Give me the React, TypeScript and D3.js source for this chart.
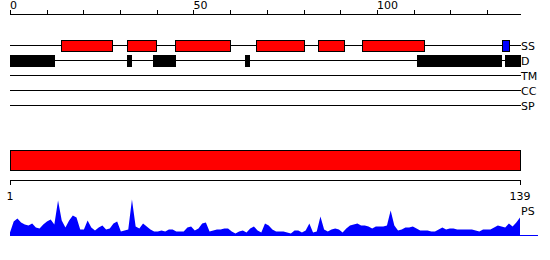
import React from "react";
import * as d3 from "d3";

const AXIS_TICKS = d3.range(0, 140, 10);
const AXIS_LABELS = [0, 50, 100];
const TRACKS = ["SS", "D", "TM", "CC", "SP"];
const HELIX: [number, number][] = [[14, 28], [32, 40], [45, 60], [67, 80], [84, 91], [96, 113]];
const STRAND: [number, number][] = [[134, 136]];
const DISORDER: [number, number][] = [[0, 12], [32, 33], [39, 45], [64, 65], [111, 134], [135, 139]];
const SEQ_START = 1;
const SEQ_END = 139;
const PS_LABEL = "PS";
const PS_VALUES = [
  3, 14, 17, 13, 11, 10, 12, 8, 7, 11,
  14, 16, 11, 35, 15, 8, 15, 20, 18, 6,
  6, 15, 8, 5, 8, 10, 6, 7, 12, 14,
  4, 5, 6, 36, 9, 7, 12, 9, 6, 4,
  4, 5, 4, 6, 6, 4, 4, 4, 8, 9,
  5, 7, 12, 13, 4, 5, 6, 6, 7, 7,
  4, 2, 4, 5, 3, 7, 9, 5, 3, 12,
  10, 6, 4, 4, 4, 3, 2, 5, 5, 3,
  5, 12, 3, 4, 19, 6, 4, 6, 7, 6,
  3, 7, 10, 11, 12, 10, 10, 9, 7, 9,
  9, 9, 10, 25, 10, 5, 6, 8, 8, 9,
  7, 5, 5, 5, 4, 4, 6, 8, 6, 7,
  7, 6, 6, 6, 6, 6, 5, 4, 6, 6,
  6, 8, 10, 9, 8, 12, 9, 13, 18,
];

const FONT = "DejaVu Sans";

export default function App() {
  const W = 550, H = 260;
  const x = d3.scaleLinear().domain([0, 139]).range([10, 520]);
  const xr = d3.scaleLinear().domain([SEQ_START, SEQ_END]).range([10, 520]);
  const y = d3.scaleLinear().domain([0, 40]).range([235.5, 195.5]);
  const trackY = d3.scalePoint<string>().domain(TRACKS).range([45.5, 105.5]);
  const area = d3.area<number>()
    .x((_, i) => xr(i + SEQ_START))
    .y0(236)
    .y1((d) => y(d))
    .curve(d3.curveLinear);

  const box = (seg: [number, number], cy: number, fill: string, stroke: string, key: string) => (
    <rect key={key} x={Math.round(x(seg[0])) + 0.5} y={cy - 5} width={Math.max(1, Math.round(x(seg[1]) - x(seg[0])))}
      height={11} fill={fill} stroke={stroke} strokeWidth={1} />
  );

  return (
    <svg width={W} height={H} style={{ position: "absolute", left: 0, top: 0, background: "#fff" }}
      fontFamily={FONT}>
      {/* top axis */}
      <line x1={10} x2={521} y1={14.5} y2={14.5} stroke="#000" />
      {AXIS_TICKS.map((t) => (
        <line key={t} x1={Math.round(x(t)) + 0.5} x2={Math.round(x(t)) + 0.5} y1={10} y2={15} stroke="#000" />
      ))}
      {AXIS_LABELS.map((t) => (
        <text key={t} x={x(t)} y={9} fontSize={11} fill="#000">{t}</text>
      ))}
      {/* tracks */}
      {TRACKS.map((t) => (
        <g key={t}>
          <line x1={10} x2={521} y1={trackY(t)} y2={trackY(t)} stroke="#000" />
          <text x={521} y={(trackY(t) as number) + 4.5} fontSize={11} fill="#000">{t}</text>
        </g>
      ))}
      {HELIX.map((s, i) => box(s, trackY("SS") as number, "#ff0000", "#000", "h" + i))}
      {STRAND.map((s, i) => box(s, trackY("SS") as number, "#0000ff", "#000", "s" + i))}
      {DISORDER.map((s, i) => box(s, trackY("D") as number, "#000", "#000", "d" + i))}
      {/* sequence bar */}
      <rect x={10.5} y={150.5} width={510} height={20} fill="#ff0000" stroke="#000" />
      {/* bottom axis */}
      <line x1={10} x2={521} y1={180.5} y2={180.5} stroke="#000" />
      <line x1={10.5} x2={10.5} y1={180} y2={185} stroke="#000" />
      <line x1={520.5} x2={520.5} y1={180} y2={185} stroke="#000" />
      <text x={xr(SEQ_START)} y={200} fontSize={11} textAnchor="middle">{SEQ_START}</text>
      <text x={xr(SEQ_END)} y={200} fontSize={11} textAnchor="middle">{SEQ_END}</text>
      <text x={521} y={215} fontSize={11}>{PS_LABEL}</text>
      {/* PS area */}
      <path d={area(PS_VALUES) ?? ""} fill="#0000ff" />
      <line x1={10} x2={538} y1={235.5} y2={235.5} stroke="#0000ff" />
    </svg>
  );
}
